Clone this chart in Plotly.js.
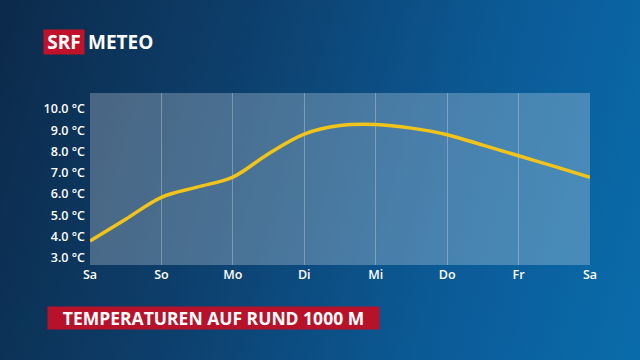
<!DOCTYPE html>
<html>
<head>
<meta charset="utf-8">
<script src="https://cdn.plot.ly/plotly-3.0.1.min.js"></script>
<style>
html,body{margin:0;padding:0;width:640px;height:360px;overflow:hidden;}
body{background:linear-gradient(105deg,#0c2a4a 0%,#0d3f6c 35%,#0b5a96 70%,#0a6cab 100%);}
#chart{width:640px;height:360px;}
</style>
</head>
<body>
<div id="chart"></div>
<script>
const dayLabels = ['Sa','So','Mo','Di','Mi','Do','Fr','Sa'];
const dayPositions = [0,1,2,3,4,5,6,7];
const timeSteps = [0,0.5,1,1.5,2,2.5,3,3.5,4,4.5,5,5.5,6,6.5,7];
const temperatures = [3.8,4.82,5.85,6.33,6.8,7.9,8.82,9.22,9.27,9.1,8.79,8.3,7.8,7.3,6.79];
const yTicks = [3,4,5,6,7,8,9,10];
const yTickLabels = ['3.0 °C','4.0 °C','5.0 °C','6.0 °C','7.0 °C','8.0 °C','9.0 °C','10.0 °C'];

const W = 640, H = 360, L = 90, R = 50, T = 93, B = 95;
const pw = W - L - R, ph = H - T - B;
const px = x => (x - L) / pw;
const py = y => (H - B - y) / ph;

const trace = {
  x: timeSteps, y: temperatures, type: 'scatter', mode: 'lines',
  line: {color: '#f2c419', width: 3.5, shape: 'spline', smoothing: 1},
  hoverinfo: 'skip'
};

const tickFont = {size: 12.5, color: '#ffffff', family: 'Open Sans, sans-serif', weight: 600};

const layout = {
  width: W, height: H,
  margin: {l: L, r: R, t: T, b: B, pad: 0},
  paper_bgcolor: 'rgba(0,0,0,0)',
  plot_bgcolor: 'rgba(255,255,255,0.25)',
  showlegend: false,
  font: {family: 'Open Sans, sans-serif', color: '#ffffff'},
  xaxis: {
    range: [0, 7], tickmode: 'array', tickvals: dayPositions, ticktext: dayLabels,
    showgrid: true, gridcolor: 'rgba(255,255,255,0.28)', gridwidth: 1,
    zeroline: false, showline: false, ticks: '',
    tickfont: tickFont, fixedrange: true
  },
  yaxis: {
    range: [2.67, 10.75], tickmode: 'array', tickvals: yTicks, ticktext: yTickLabels,
    showgrid: false, zeroline: false, showline: false, ticks: '',
    ticklabelstandoff: 4,
    tickfont: tickFont, fixedrange: true
  },
  annotations: [
    {text: '<b>SRF</b>', xref: 'paper', yref: 'paper', x: px(64), y: py(42),
     xanchor: 'center', yanchor: 'middle', showarrow: false,
     bgcolor: '#c0122a', width: 40, height: 24, borderpad: 0,
     font: {size: 19, color: '#ffffff', family: 'Open Sans, sans-serif'}},
    {text: '<b>METEO</b>', xref: 'paper', yref: 'paper', x: px(86), y: py(42),
     xanchor: 'left', yanchor: 'middle', showarrow: false,
     font: {size: 19, color: '#ffffff', family: 'Open Sans, sans-serif'}},
    {text: '<b>TEMPERATUREN AUF RUND 1000 M</b>', xref: 'paper', yref: 'paper',
     x: px(213.5), y: py(318), xanchor: 'center', yanchor: 'middle', showarrow: false,
     bgcolor: '#b8112a', width: 331, height: 22, borderpad: 0,
     font: {size: 17.5, color: '#ffffff', family: 'Open Sans, sans-serif'}}
  ]
};

Plotly.newPlot('chart', [trace], layout, {displayModeBar: false, staticPlot: true});
</script>
</body>
</html>
